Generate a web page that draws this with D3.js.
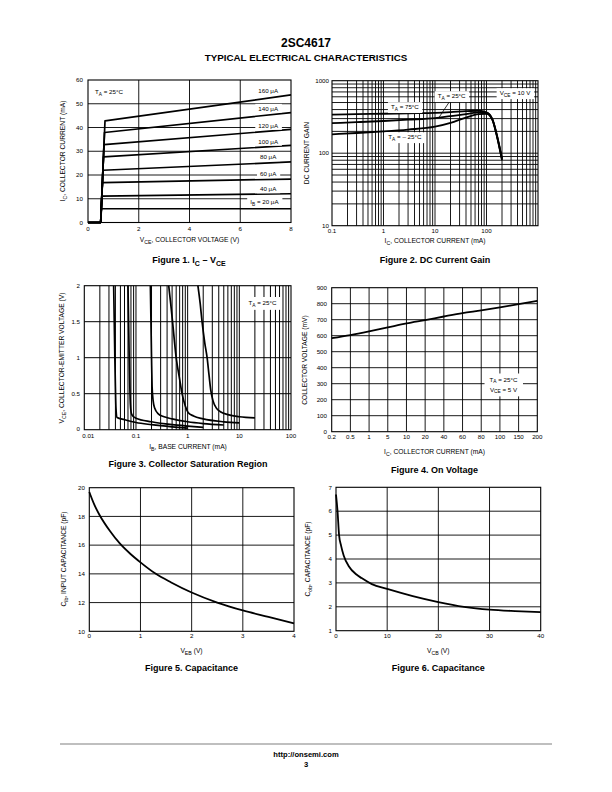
<!DOCTYPE html>
<html><head><meta charset="utf-8">
<script src="https://cdn.jsdelivr.net/npm/d3@7"></script>
<style>body{margin:0;background:#fff}svg{display:block}text{font-family:"Liberation Sans",Arial,Helvetica,sans-serif}</style>
</head><body><svg id="c" width="612" height="792"></svg>
<script>
// ---------- DATA ----------
// Figure 1: Ic vs Vce
const fig1Ib = ["160","140","120","100","80","60","40","20"];
const fig1KneeV = [0.67,0.65,0.63,0.61,0.59,0.57,0.55,0.53];
const fig1StartIc = [42.8,37.9,32.8,27.6,22,16.8,11.1,5.8];
const fig1EndIc = [53.7,46.3,39.2,32.5,25.5,18.3,12.1,5.8];
const fig1CutoffV = 0.5;
const fig1MaxV = 8;
const fig1LabelIc = [55.4,48,40.7,34,27.5,20.6,14,8.6];
const fig1XTicks = [0,2,4,6,8];
const fig1YTicks = [0,10,20,30,40,50,60];

// Figure 2: DC current gain
const fig2Ic = [0.1,0.3,1,3,10,20,40,70,100,130,160,200];
const fig2Hfe75 = [340,345,350,355,360,368,380,385,365,295,175,85];
const fig2Hfe25 = [260,268,278,290,305,325,345,365,360,290,170,82];
const fig2HfeM25 = [182,190,200,212,232,262,310,345,350,290,170,80];
const fig2XTicks = [0.1,1,10,100];
const fig2YTicks = [10,100,1000];

// Figure 3: collector saturation region (IB mA, VCE V)
const fig3Curve1 = [[0.037,2],[0.038,1.5],[0.039,1],[0.04,0.6],[0.041,0.3],[0.043,0.17],[0.06,0.14],[0.1,0.1],[0.2,0.07],[0.5,0.04],[1,0.022]];
const fig3Curve2 = [[0.07,2],[0.072,1.5],[0.074,1],[0.076,0.6],[0.078,0.35],[0.082,0.22],[0.09,0.18],[0.1,0.16],[0.2,0.11],[0.5,0.07],[1,0.05],[2,0.033]];
const fig3Curve3 = [[0.19,2],[0.195,1.5],[0.2,1],[0.205,0.6],[0.215,0.4],[0.23,0.3],[0.27,0.22],[0.35,0.18],[0.5,0.15],[1,0.11],[2,0.085],[5,0.065]];
const fig3Curve4 = [[0.43,2],[0.47,1.75],[0.51,1.5],[0.6,1],[0.7,0.7],[0.78,0.5],[0.9,0.33],[1.02,0.24],[1.3,0.19],[2,0.15],[5,0.11],[10,0.095]];
const fig3Curve5 = [[1.58,2],[1.75,1.75],[1.9,1.5],[2.15,1.2],[2.38,1],[2.6,0.75],[2.8,0.55],[3.1,0.4],[3.6,0.3],[4.3,0.25],[6,0.21],[10,0.18],[20,0.165]];
const fig3XTicks = [0.01,0.1,1,10,100];
const fig3YTicks = [0,0.5,1,1.5,2];

// Figure 4: on voltage
const fig4Ic = ["0.2","0.5","1","5","10","20","40","60","80","100","150","200"];
const fig4Vbe = [585,604,627,652,677,698,720,741,758,777,798,818];
const fig4YTicks = [0,100,200,300,400,500,600,700,800,900];

// Figure 5: input capacitance
const fig5Veb = [0,0.1,0.2,0.4,0.6,0.8,1,1.3,1.6,2,2.5,3,3.5,4];
const fig5Cib = [19.7,18.8,18.1,17,16.1,15.4,14.8,14,13.4,12.7,12,11.45,11,10.55];
const fig5XTicks = [0,1,2,3,4];
const fig5YTicks = [10,12,14,16,18,20];

// Figure 6: output capacitance
const fig6Vcb = [0,0.3,0.6,1,1.5,2.5,4,5,7,10,15,20,25,30,35,40];
const fig6Cob = [6.7,6.0,5.0,4.55,4.15,3.7,3.35,3.2,2.95,2.75,2.45,2.2,2.0,1.88,1.82,1.78];
const fig6XTicks = [0,10,20,30,40];
const fig6YTicks = [1,2,3,4,5,6,7];

// ---------- HELPERS ----------
const svg = d3.select("#c");
const AX = 6.7;   // axis title size
const TK = 6.2;   // tick label size
function rich(g, x, y, parts, o = {}) {
  const size = o.size || 6;
  const grp = g.append("g").attr("transform", `translate(${x},${y})` + (o.rotate ? " rotate(-90)" : ""));
  const t = grp.append("text").attr("font-size", size).attr("text-anchor", o.anchor || "middle")
    .attr("font-weight", o.weight || "normal").attr("fill", "#000");
  let shifted = false;
  parts.forEach(p => {
    if (typeof p === "string") {
      const ts = t.append("tspan").text(p);
      if (shifted) { ts.attr("dy", -size * 0.3); shifted = false; }
    } else {
      t.append("tspan").text(p.s).attr("font-size", size * 0.78).attr("dy", size * 0.3);
      shifted = true;
    }
  });
  if (o.bg) {
    const b = t.node().getBBox();
    const px = o.padX != null ? o.padX : 2, py = o.padY != null ? o.padY : 1;
    grp.insert("rect", "text").attr("x", b.x - px).attr("y", b.y - py)
      .attr("width", b.width + 2 * px).attr("height", b.height + 2 * py).attr("fill", "#fff");
  }
  return grp;
}
function frame(g, x, y) {
  const [x0, x1] = x.range(), [y0, y1] = y.range();
  g.append("rect").attr("x", x0).attr("y", y1).attr("width", x1 - x0).attr("height", y0 - y1)
    .attr("fill", "none").attr("stroke", "#000").attr("stroke-width", 1.1);
}
function vgrid(g, x, y, vals, w = 0.9) {
  const [y0, y1] = y.range();
  g.selectAll(null).data(vals).join("line").attr("x1", d => x(d)).attr("x2", d => x(d))
    .attr("y1", y0).attr("y2", y1).attr("stroke", "#000").attr("stroke-width", w);
}
function hgrid(g, x, y, vals, w = 0.9) {
  const [x0, x1] = x.range();
  g.selectAll(null).data(vals).join("line").attr("y1", d => y(d)).attr("y2", d => y(d))
    .attr("x1", x0).attr("x2", x1).attr("stroke", "#000").attr("stroke-width", w);
}
function xTickLabels(g, x, vals, base, fmt = d => d, dxFirst = 0) {
  g.selectAll(null).data(vals).join("text").attr("x", (d, i) => x(d) + (i === 0 ? dxFirst : 0)).attr("y", base)
    .attr("font-size", TK).attr("text-anchor", "middle").text(fmt);
}
function yTickLabels(g, y, vals, right, fmt = d => d, dyFirst = 0) {
  g.selectAll(null).data(vals).join("text").attr("x", right).attr("y", (d, i) => y(d) + 2.2 + (i === 0 ? dyFirst : 0))
    .attr("font-size", TK).attr("text-anchor", "end").text(fmt);
}
function curve(g, pts, line, w = 1.9) {
  g.append("path").datum(pts).attr("d", line).attr("fill", "none").attr("stroke", "#000")
    .attr("stroke-width", w).attr("stroke-linejoin", "round");
}

// ---------- HEADER / FOOTER ----------
rich(svg, 306, 46.5, ["2SC4617"], { size: 12, weight: "bold" });
rich(svg, 306, 60.5, ["TYPICAL ELECTRICAL CHARACTERISTICS"], { size: 9.8, weight: "bold" });
svg.append("line").attr("x1", 60).attr("x2", 552).attr("y1", 744).attr("y2", 744).attr("stroke", "#aaa").attr("stroke-width", 1.3);
rich(svg, 306, 756.5, ["http://onsemi.com"], { size: 7.6, weight: "bold" });
rich(svg, 306, 766.5, ["3"], { size: 7.6, weight: "bold" });

// ---------- FIGURE 1 ----------
{
  const g = svg.append("g");
  const x = d3.scaleLinear([0, 8], [88, 291]);
  const y = d3.scaleLinear([0, 60], [222.5, 80]);
  vgrid(g, x, y, fig1XTicks.slice(1, -1));
  hgrid(g, x, y, fig1YTicks.slice(1, -1));
  const line = d3.line().x(d => x(d[0])).y(d => y(d[1]));
  fig1Ib.forEach((ib, i) => {
    curve(g, [[0, 0], [fig1CutoffV, 0], [fig1KneeV[i], fig1StartIc[i]], [fig1MaxV, fig1EndIc[i]]], line, 1.7);
  });
  fig1Ib.forEach((ib, i) => {
    const parts = i === fig1Ib.length - 1 ? ["I", { s: "B" }, " = " + ib + " μA"] : [ib + " μA"];
    rich(g, x(i === fig1Ib.length - 1 ? 6.95 : 7.1), y(fig1LabelIc[i]) + 2.2, parts, { size: 6.2, bg: true, padX: 3, padY: 0.8 });
  });
  rich(g, 95, 94, ["T", { s: "A" }, " = 25°C"], { size: 6.2, anchor: "start" });
  frame(g, x, y);
  xTickLabels(g, x, fig1XTicks, 231);
  yTickLabels(g, y, fig1YTicks, 83);
  rich(g, 189.5, 242, ["V", { s: "CE" }, ", COLLECTOR VOLTAGE (V)"], { size: AX });
  rich(g, 65, 151, ["I", { s: "C" }, ", COLLECTOR CURRENT (mA)"], { size: AX, rotate: true });
  rich(g, 189, 263, ["Figure 1. I", { s: "C" }, " – V", { s: "CE" }], { size: 9, weight: "bold" });
}

// ---------- FIGURE 2 ----------
{
  const g = svg.append("g");
  const x = d3.scaleLog([0.1, 1000], [332, 538]);
  const y = d3.scaleLog([10, 1000], [225.7, 80.7]);
  const xg = [], yg = [];
  [0.1, 1, 10, 100].forEach(dd => { for (let k = 1; k <= 9; k++) xg.push(dd * k); });
  [10, 100].forEach(dd => { for (let k = 1; k <= 9; k++) yg.push(dd * k); });
  vgrid(g, x, y, xg.slice(1), 0.9);
  hgrid(g, x, y, yg.slice(1), 0.9);
  const line = d3.line().x((d, i) => x(fig2Ic[i])).y(d => y(d)).curve(d3.curveMonotoneX);
  curve(g, fig2Hfe75, line, 1.8);
  curve(g, fig2Hfe25, line, 1.8);
  curve(g, fig2HfeM25, line, 1.8);
  g.append("line").attr("x1", x(20)).attr("y1", y(540)).attr("x2", x(12)).attr("y2", y(312))
    .attr("stroke", "#000").attr("stroke-width", 0.8);
  rich(g, x(2.6), y(434) + 2.2, ["T", { s: "A" }, " = 75°C"], { size: 6.2, bg: true, padX: 3 });
  rich(g, x(21), y(615) + 2.2, ["T", { s: "A" }, " = 25°C"], { size: 6.2, bg: true, padX: 3 });
  rich(g, x(2.6), y(167) + 2.2, ["T", { s: "A" }, " = – 25°C"], { size: 6.2, bg: true, padX: 3 });
  rich(g, x(357), y(676) + 2.2, ["V", { s: "CE" }, " = 10 V"], { size: 6.2, bg: true, padX: 3 });
  frame(g, x, y);
  xTickLabels(g, x, fig2XTicks, 232.5);
  yTickLabels(g, y, fig2YTicks, 329);
  rich(g, 435, 243, ["I", { s: "C" }, ", COLLECTOR CURRENT (mA)"], { size: AX });
  rich(g, 309, 153, ["DC CURRENT GAIN"], { size: AX, rotate: true });
  rich(g, 435, 263, ["Figure 2. DC Current Gain"], { size: 9, weight: "bold" });
}

// ---------- FIGURE 3 ----------
{
  const g = svg.append("g");
  const x = d3.scaleLog([0.01, 100], [84.3, 291]);
  const y = d3.scaleLinear([0, 2], [429.7, 285.7]);
  const xg = [];
  [0.01, 0.1, 1, 10].forEach(dd => { for (let k = 1; k <= 9; k++) xg.push(dd * k); });
  vgrid(g, x, y, xg.slice(1), 1.0);
  hgrid(g, x, y, fig3YTicks.slice(1, -1), 1.0);
  const line = d3.line().x(d => x(d[0])).y(d => y(d[1])).curve(d3.curveMonotoneX);
  [fig3Curve1, fig3Curve2, fig3Curve3, fig3Curve4, fig3Curve5].forEach(c => curve(g, c, line, 1.7));
  rich(g, 262.5, 305, ["T", { s: "A" }, " = 25°C"], { size: 6.2, bg: true, padX: 4, padY: 2 });
  frame(g, x, y);
  xTickLabels(g, x, fig3XTicks, 437.5, d => d, 4);
  yTickLabels(g, y, fig3YTicks, 80, d => d, -0.8);
  rich(g, 188, 449, ["I", { s: "B" }, ", BASE CURRENT (mA)"], { size: AX });
  rich(g, 64, 358, ["V", { s: "CE" }, ", COLLECTOR-EMITTER VOLTAGE (V)"], { size: AX, rotate: true });
  rich(g, 188, 467, ["Figure 3. Collector Saturation Region"], { size: 9, weight: "bold" });
}

// ---------- FIGURE 4 ----------
{
  const g = svg.append("g");
  const x = d3.scalePoint(fig4Ic, [331.7, 537.3]);
  const y = d3.scaleLinear([0, 900], [431.7, 287.7]);
  vgrid(g, x, y, fig4Ic.slice(1, -1));
  hgrid(g, x, y, fig4YTicks.slice(1, -1));
  const line = d3.line().x((d, i) => x(fig4Ic[i])).y(d => y(d)).curve(d3.curveMonotoneX);
  curve(g, fig4Vbe, line, 1.8);
  rich(g, 503.5, 381.5, ["T", { s: "A" }, " = 25°C"], { size: 6.2, bg: true, padX: 5, padY: 2 });
  rich(g, 503.5, 391.5, ["V", { s: "CE" }, " = 5 V"], { size: 6.2, bg: true, padX: 5, padY: 2 });
  frame(g, x, y);
  xTickLabels(g, x, fig4Ic, 438.5);
  yTickLabels(g, y, fig4YTicks, 327);
  rich(g, 434.5, 454, ["I", { s: "C" }, ", COLLECTOR CURRENT (mA)"], { size: AX });
  rich(g, 307, 360, ["COLLECTOR VOLTAGE (mV)"], { size: AX, rotate: true });
  rich(g, 434.5, 472.5, ["Figure 4. On Voltage"], { size: 9, weight: "bold" });
}

// ---------- FIGURE 5 ----------
{
  const g = svg.append("g");
  const x = d3.scaleLinear([0, 4], [89.3, 294]);
  const y = d3.scaleLinear([10, 20], [631.3, 487.7]);
  vgrid(g, x, y, fig5XTicks.slice(1, -1));
  hgrid(g, x, y, fig5YTicks.slice(1, -1));
  const line = d3.line().x((d, i) => x(fig5Veb[i])).y(d => y(d)).curve(d3.curveMonotoneX);
  curve(g, fig5Cib, line, 1.8);
  frame(g, x, y);
  xTickLabels(g, x, fig5XTicks, 638);
  yTickLabels(g, y, fig5YTicks, 85);
  rich(g, 191.5, 653, ["V", { s: "EB" }, " (V)"], { size: AX });
  rich(g, 66, 559, ["C", { s: "ib" }, ", INPUT CAPACITANCE (pF)"], { size: AX, rotate: true });
  rich(g, 191.5, 671, ["Figure 5. Capacitance"], { size: 9, weight: "bold" });
}

// ---------- FIGURE 6 ----------
{
  const g = svg.append("g");
  const x = d3.scaleLinear([0, 40], [336, 540.7]);
  const y = d3.scaleLinear([1, 7], [630.7, 487.3]);
  vgrid(g, x, y, fig6XTicks.slice(1, -1));
  hgrid(g, x, y, fig6YTicks.slice(1, -1));
  const line = d3.line().x((d, i) => x(fig6Vcb[i])).y(d => y(d)).curve(d3.curveMonotoneX);
  curve(g, fig6Cob, line, 1.8);
  frame(g, x, y);
  xTickLabels(g, x, fig6XTicks, 638);
  yTickLabels(g, y, fig6YTicks, 332);
  rich(g, 438.3, 653, ["V", { s: "CB" }, " (V)"], { size: AX });
  rich(g, 310, 559, ["C", { s: "ob" }, ", CAPACITANCE (pF)"], { size: AX, rotate: true });
  rich(g, 438.3, 671, ["Figure 6. Capacitance"], { size: 9, weight: "bold" });
}
</script></body></html>
